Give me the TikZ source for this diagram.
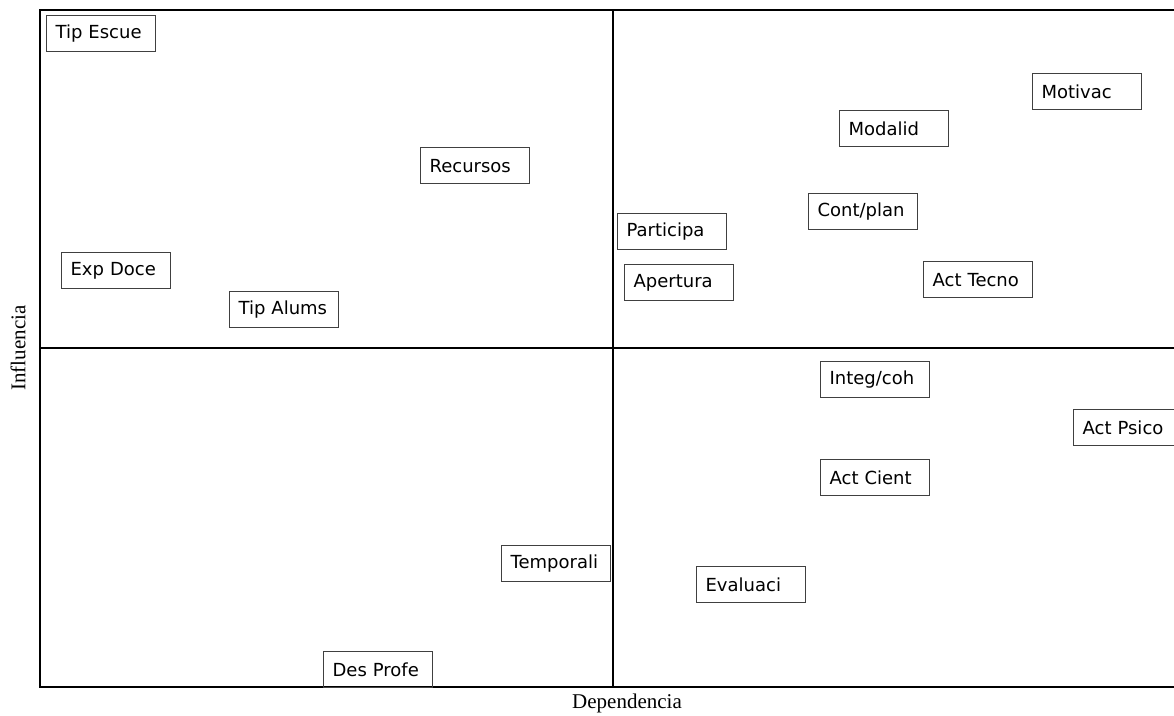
\documentclass[tikz,border=0pt]{standalone}
\usepackage{fontspec}
\setmainfont{Liberation Serif}
\newfontfamily\lblfont{DejaVu Sans}
\begin{document}
\begin{tikzpicture}[x=1pt,y=-1pt,
  lbl/.style={draw=black!75, line width=1.2pt, anchor=north west,
    minimum height=36pt, text width=91pt, inner xsep=9pt, inner ysep=0pt,
    align=left, font=\lblfont\fontsize{18}{20}\selectfont},
  frame/.style={line width=1.8pt, black},
  axislbl/.style={font=\fontsize{21}{24}\selectfont, inner sep=0pt}]
\useasboundingbox (0,0) rectangle (1174,715);
\clip (0,0) rectangle (1174,715);
% quadrant frame
\coordinate (tl) at (40,10);
\coordinate (tr) at (1180,10);
\coordinate (bl) at (40,687);
\coordinate (br) at (1180,687);
\coordinate (mt) at (613,10);
\coordinate (mb) at (613,687);
\coordinate (ml) at (40,348);
\coordinate (mr) at (1180,348);
\draw[frame] (tr) -- (tl) -- (bl) -- (br);
\draw[frame] (mt) -- (mb);
\draw[frame] (ml) -- (mr);
% variables
\node[lbl] (tipescue)  at (46,15)   {Tip Escue};
\node[lbl] (recursos)  at (420,147) {Recursos};
\node[lbl] (expdoce)   at (61,252)  {Exp Doce};
\node[lbl] (tipalums)  at (229,291) {Tip Alums};
\node[lbl] (participa) at (617,213) {Participa};
\node[lbl] (apertura)  at (624,264) {Apertura};
\node[lbl] (modalid)   at (839,110) {Modalid};
\node[lbl] (motivac)   at (1032,73) {Motivac};
\node[lbl] (contplan)  at (808,193) {Cont/plan};
\node[lbl] (acttecno)  at (923,261) {Act Tecno};
\node[lbl] (integcoh)  at (820,361) {Integ/coh};
\node[lbl] (actpsico)  at (1073,409) {Act Psico};
\node[lbl] (actcient)  at (820,459) {Act Cient};
\node[lbl] (temporali) at (501,545) {Temporali};
\node[lbl] (evaluaci)  at (696,566) {Evaluaci};
\node[lbl] (desprofe)  at (323,651) {Des Profe};
% axis titles
\node[axislbl] (xaxis) at (627,703) {Dependencia};
\node[axislbl, rotate=90] (yaxis) at (18,348) {Influencia};
\end{tikzpicture}
\end{document}
